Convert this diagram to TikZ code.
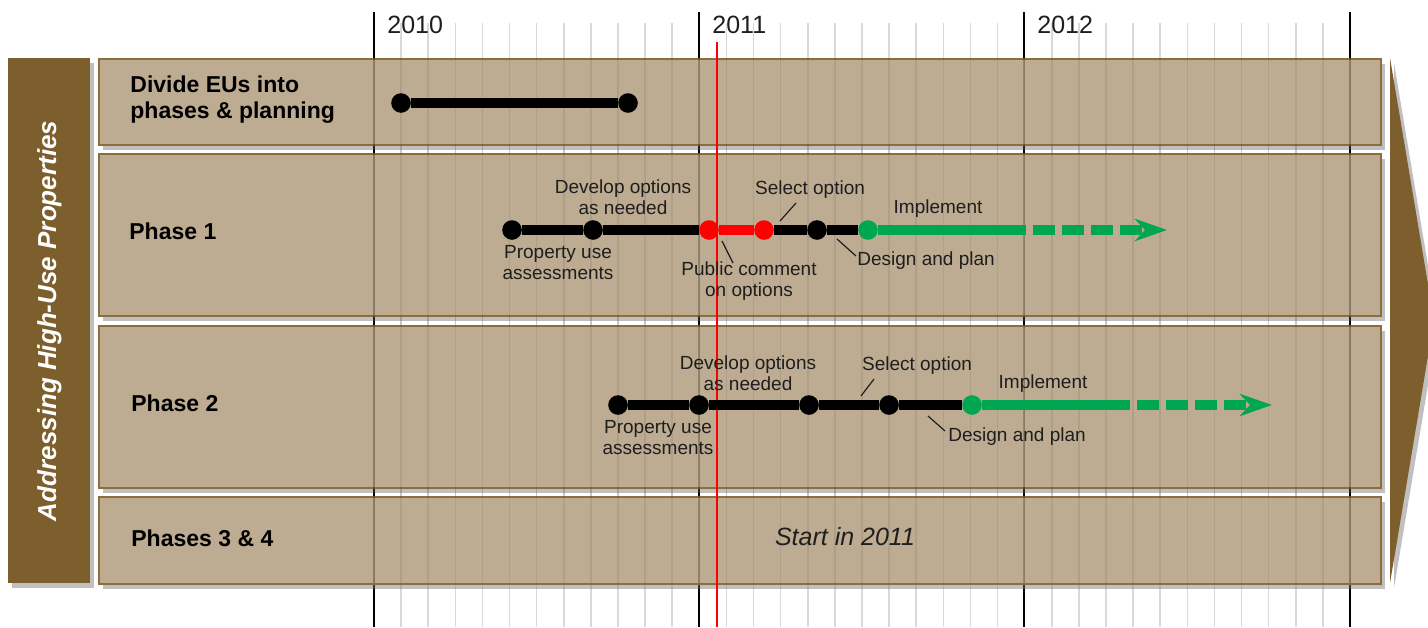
\documentclass[tikz,border=0pt]{standalone}
\usepackage{fontspec}
\setmainfont{Liberation Sans}
\usetikzlibrary{shadows,arrows.meta}
\definecolor{bandtan}{RGB}{189,172,146}
\definecolor{bandedge}{RGB}{142,109,60}
\definecolor{darkbrown}{RGB}{125,94,45}
\definecolor{implgreen}{RGB}{0,166,81}
\definecolor{textgray}{RGB}{30,30,30}

\begin{document}
\begin{tikzpicture}[x=0.5pt,y=-0.5pt]
        \tikzset{band/.style={draw=bandedge,line width=1pt,fill=bandtan,anchor=north west,minimum width=641pt,inner sep=0pt,
                   drop shadow={shadow xshift=2pt,shadow yshift=-2.5pt,fill=black!55,opacity=0.45}},
                 phase label/.style={font=\fontsize{11.5}{13}\selectfont\bfseries,text=black,anchor=west,align=left,inner sep=0pt},
                 small label/.style={font=\fontsize{9.5}{10.5}\selectfont,text=textgray,align=center,inner sep=0pt},
                 milestone/.style={circle,fill=#1,minimum size=9.8pt,inner sep=0pt},
                 track/.style={line width=4.6pt,draw=#1},
                 leader/.style={draw=textgray,line width=0.6pt}}

        \useasboundingbox (0,0) rectangle (1428,627);

        % time grid
        \foreach \m in {0,...,36}
            \draw[black!15,line width=0.8pt] ({374+27.11*\m},23) -- ({374+27.11*\m},627);
        \foreach \xx in {374,699,1024,1350}
            \draw[black,line width=1pt] (\xx,12) -- (\xx,627);
        \node[font=\fontsize{12.5}{14}\selectfont,text=textgray,anchor=west,inner sep=0pt] (y2010) at (387,25) {2010};
        \node[font=\fontsize{12.5}{14}\selectfont,text=textgray,anchor=west,inner sep=0pt] (y2011) at (712,25) {2011};
        \node[font=\fontsize{12.5}{14}\selectfont,text=textgray,anchor=west,inner sep=0pt] (y2012) at (1037,25) {2012};

        % side bar and arrow
        \node[fill=darkbrown,anchor=north west,minimum width=41pt,minimum height=262.5pt,inner sep=0pt,
              drop shadow={shadow xshift=2pt,shadow yshift=-2.5pt,fill=black!55,opacity=0.45}] (side) at (8,58) {};
        \node[rotate=90,text=white,font=\fontsize{13}{15}\selectfont\bfseries\itshape] at (side.center) {Addressing High-Use Properties};
        \fill[darkbrown,drop shadow={shadow xshift=2pt,shadow yshift=-2.5pt,fill=black!55,opacity=0.45}] (1390,58) -- (1434,320) -- (1390,583) -- cycle;

        % bands
        \node[band,minimum height=43pt] (divide) at (98,58) {};
        \node[band,minimum height=81pt] (phaseone) at (98,153) {};
        \node[band,minimum height=81pt] (phasetwo) at (98,325) {};
        \node[band,minimum height=43.5pt] (phaselater) at (98,496) {};

        \foreach \m in {0,...,36}
            \draw[black,opacity=0.07,line width=0.8pt] ({374+27.11*\m},58) -- ({374+27.11*\m},583);
        \foreach \xx in {374,699,1024,1350}
            \draw[black,opacity=0.22,line width=1pt] (\xx,58) -- (\xx,583);

        \node[phase label] at ([xshift=16pt,yshift=1pt]divide.west) {Divide EUs into\\phases \& planning};
        \node[phase label] at ([xshift=15.5pt,yshift=2pt]phaseone.west) {Phase 1};
        \node[phase label] at ([xshift=16.5pt,yshift=2pt]phasetwo.west) {Phase 2};
        \node[phase label] at ([xshift=16.5pt,yshift=1pt]phaselater.west) {Phases 3 \& 4};

        % today
        \draw[red,line width=0.7pt] (717,42) -- (717,627);

        % dividing the EUs
        \node[milestone=black] (d1) at (401,103) {};
        \node[milestone=black] (d2) at (628,103) {};
        \draw[track=black] (d1) -- (d2);

        % phase 1
        \node[milestone=black] (a1) at (512,230) {};
        \node[milestone=black] (a2) at (593,230) {};
        \node[milestone=red] (a3) at (709,230) {};
        \node[milestone=red] (a4) at (764,230) {};
        \node[milestone=black] (a5) at (817,230) {};
        \node[milestone=implgreen] (a6) at (868,230) {};
        \coordinate (a7) at (1026,230);
        \coordinate (a8) at (1167,230);
        \draw[track=black] (a1) -- (a2) -- (a3);
        \draw[track=red] (a3) -- (a4);
        \draw[track=black] (a4) -- (a5) -- (a6);
        \draw[track=implgreen] (a6) -- (a7);
        \draw[track=implgreen,dash pattern=on 11pt off 3.5pt,dash phase=11pt,-{Stealth[length=16pt,width=11pt,inset=5pt]}] (a7) -- (a8);

        \node[small label] (a2text) at (623,197) {Develop options\\as needed};
        \node[small label] (a1text) at (558,263) {Property use\\assessments};
        \node[small label] (a3text) at (749,281) {Public comment\\on options};
        \node[small label] (a4text) at (810,190) {Select option};
        \node[small label] (a6text) at (938,209) {Implement};
        \node[small label,anchor=west] (a5text) at (857,261) {Design and plan};
        \coordinate (a3lead) at (733,263);
        \coordinate (a4lead) at (780,221);
        \coordinate (a5lead) at (837,239);
        \draw[leader] (a3lead) -- (722,241);
        \draw[leader] (a4lead) -- (796,203);
        \draw[leader] (a5lead) -- (856,256);

        % phase 2
        \node[milestone=black] (b1) at (618,405) {};
        \node[milestone=black] (b2) at (699,405) {};
        \node[milestone=black] (b3) at (809,405) {};
        \node[milestone=black] (b4) at (889,405) {};
        \node[milestone=implgreen] (b5) at (972,405) {};
        \coordinate (b6) at (1130,405);
        \coordinate (b7) at (1272,405);
        \draw[track=black] (b1) -- (b2) -- (b3) -- (b4) -- (b5);
        \draw[track=implgreen] (b5) -- (b6);
        \draw[track=implgreen,dash pattern=on 11pt off 3.5pt,dash phase=11pt,-{Stealth[length=16pt,width=11pt,inset=5pt]}] (b6) -- (b7);

        \node[small label] (b2text) at (748,373) {Develop options\\as needed};
        \node[small label] (b1text) at (658,438) {Property use\\assessments};
        \node[small label] (b3text) at (917,366) {Select option};
        \node[small label] (b5text) at (1043,384) {Implement};
        \node[small label,anchor=west] (b4text) at (948,437) {Design and plan};
        \coordinate (b3lead) at (861,396);
        \coordinate (b4lead) at (928,416);
        \draw[leader] (b3lead) -- (874,379);
        \draw[leader] (b4lead) -- (945,431);

        % phases 3 and 4
        \node[font=\fontsize{12.5}{14}\selectfont\itshape,text=textgray] (later) at (845,537) {Start in 2011};
    \end{tikzpicture}
\end{document}
